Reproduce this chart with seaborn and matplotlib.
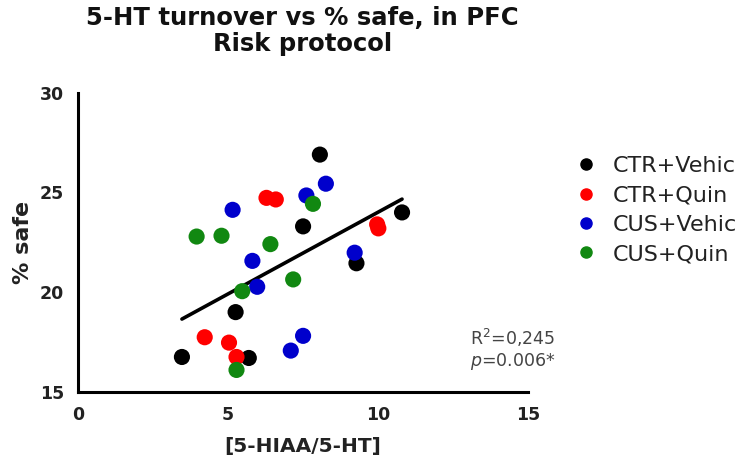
import numpy as np
import pandas as pd
import matplotlib
matplotlib.use("Agg")
import matplotlib.pyplot as plt
import seaborn as sns

groups = ["CTR+Vehic", "CTR+Quin", "CUS+Vehic", "CUS+Quin"]
colors = ["#000000", "#ff0000", "#0000cc", "#118811"]

ctr_vehic_x = [3.47, 5.26, 5.70, 7.51, 8.07, 9.29, 10.81]
ctr_vehic_y = [16.75, 19.0, 16.7, 23.3, 26.9, 21.45, 24.0]
ctr_quin_x = [4.23, 5.04, 5.29, 6.29, 6.60, 9.98, 10.02]
ctr_quin_y = [17.74, 17.47, 16.75, 24.73, 24.65, 23.4, 23.2]
cus_vehic_x = [5.16, 5.82, 5.98, 7.62, 8.27, 9.23, 7.10, 7.51]
cus_vehic_y = [24.13, 21.57, 20.27, 24.85, 25.44, 21.98, 17.07, 17.81]
cus_quin_x = [3.96, 4.79, 6.42, 5.48, 7.18, 5.29, 7.84]
cus_quin_y = [22.79, 22.83, 22.41, 20.05, 20.64, 16.10, 24.43]

xs = [ctr_vehic_x, ctr_quin_x, cus_vehic_x, cus_quin_x]
ys = [ctr_vehic_y, ctr_quin_y, cus_vehic_y, cus_quin_y]
df = pd.DataFrame({
    "x": np.concatenate(xs),
    "y": np.concatenate(ys),
    "group": np.concatenate([[g] * len(x) for g, x in zip(groups, xs)]),
})

sns.set_style("white")
plt.rcParams["font.family"] = ["DejaVu Sans"]

fig = plt.figure(figsize=(7.56, 4.71), dpi=100)
ax = fig.add_axes([0.103, 0.168, 0.595, 0.635])

sns.regplot(data=df, x="x", y="y", scatter=False, ci=None, truncate=True,
            line_kws=dict(color="black", lw=2.6), ax=ax)
sns.scatterplot(data=df, x="x", y="y", hue="group", hue_order=groups,
                palette=colors, s=135, edgecolor="none", ax=ax,
                legend=False, clip_on=False, zorder=3)

ax.set_xlim(0, 15)
ax.set_ylim(15, 30)
ax.set_xticks([0, 5, 10, 15])
ax.set_yticks([15, 20, 25, 30])
for s in ["top", "right"]:
    ax.spines[s].set_visible(False)
for s in ["left", "bottom"]:
    ax.spines[s].set_linewidth(2.2)
    ax.spines[s].set_color("black")
ax.tick_params(axis="both", direction="out", length=6, width=2.2,
               labelsize=12.5, colors="black", labelcolor="#222222", pad=4)
for lbl in ax.get_xticklabels() + ax.get_yticklabels():
    lbl.set_fontweight("bold")

ax.set_xlabel("[5-HIAA/5-HT]", fontsize=14.5, fontweight="bold", color="#222222")
ax.xaxis.set_label_coords(0.5, -0.15)
ax.set_ylabel("% safe", fontsize=16, fontweight="bold", color="#222222")
ax.yaxis.set_label_coords(-0.10, 0.5)

fig.text(0.400, 0.987, "5-HT turnover vs % safe, in PFC\nRisk protocol",
         fontsize=17.5, fontweight="bold", color="#111111", ha="center", va="top",
         linespacing=1.08)

ax.text(13.07, 17.7, "R$^2$=0,245", fontsize=12.5, color="#444444", va="center")
ax.text(13.07, 16.5, "$\\it{p}$=0.006*", fontsize=12.5, color="#444444", va="center")

handles = [plt.Line2D([], [], marker="o", ls="", color=c, markersize=8) for c in colors]
ax.legend(handles, groups, loc="upper left", bbox_to_anchor=(1.06, 0.855),
          frameon=False, fontsize=16, handletextpad=0.7, labelspacing=0.42,
          labelcolor="#222222", handlelength=1.0)

fig.savefig("out.png", dpi=100)
